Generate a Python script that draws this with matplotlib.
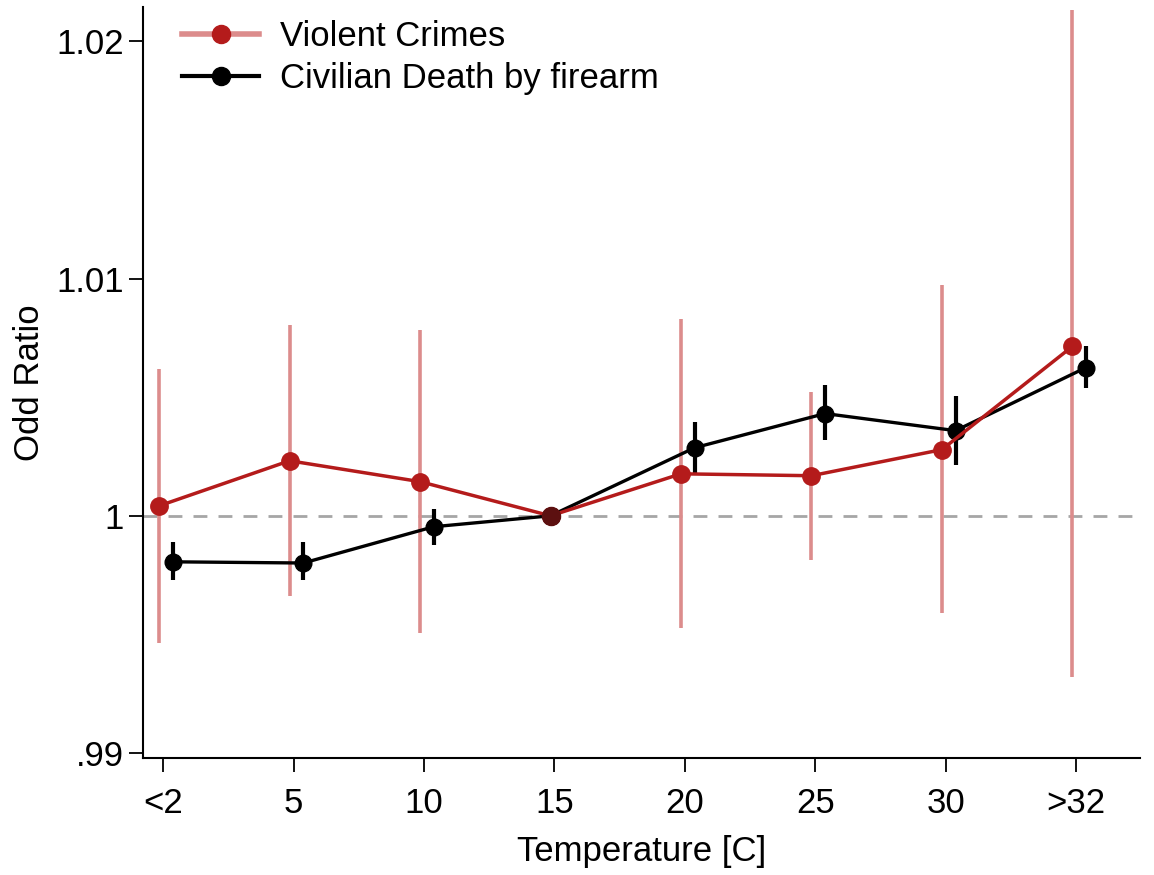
import matplotlib.pyplot as plt
import numpy as np
from matplotlib.lines import Line2D

plt.rcParams['font.family'] = ['Liberation Sans', 'DejaVu Sans']

categories = ["<2", "5", "10", "15", "20", "25", "30", ">32"]
ref_idx = 3  # 15C is the reference category

# Violent crimes: point estimate and 95% CI
violent = [1.00042, 1.00232, 1.00144, 1.0, 1.00177, 1.00169, 1.00279, 1.00714]
violent_lo = [0.99463, 0.99662, 0.99506, 1.0, 0.99527, 0.99814, 0.99590, 0.99320]
violent_hi = [1.00617, 1.00803, 1.00782, 1.0, 1.00828, 1.00520, 1.00972, 1.02134]

# Civilian death by firearm: point estimate and 95% CI
firearm = [0.99806, 0.99801, 0.99954, 1.0, 1.00287, 1.00431, 1.00359, 1.00625]
firearm_lo = [0.99730, 0.99728, 0.99877, 1.0, 1.00177, 1.00321, 1.00215, 1.00537]
firearm_hi = [0.99890, 0.99890, 1.00030, 1.0, 1.00397, 1.00553, 1.00503, 1.00714]

red = '#b41b1b'
pink = '#dc8c8c'

fig, ax = plt.subplots(figsize=(11.54, 8.75), dpi=100)
fig.subplots_adjust(left=0.124, right=0.988, bottom=0.134, top=0.992)

x = np.arange(len(categories))
xr = x - 0.03
xb = x + 0.075
xb[ref_idx] = xr[ref_idx]

ax.axhline(1.0, color='#a6a6a6', lw=2, ls=(0, (5, 4)), zorder=1)

# violent crimes CI
ax.vlines(xr, violent_lo, violent_hi, color=pink, lw=2.6, zorder=2)
# firearm CI + line
ax.vlines(xb, firearm_lo, firearm_hi, color='black', lw=3, zorder=3)
ax.plot(xb, firearm, color='black', lw=2.4, marker='o', ms=12, zorder=4)
ax.plot(xr, violent, color=red, lw=2.5, marker='o', ms=12.5, zorder=5)
# overlapping reference point
ax.plot(xr[ref_idx], violent[ref_idx], 'o', color='#5c1010', ms=13, zorder=6)

ax.set_xlim(-0.153, 7.49)
ax.set_ylim(0.9898, 1.02145)
ax.set_xticks(x)
ax.set_xticklabels(categories)
ax.set_yticks([0.99, 1.0, 1.01, 1.02])
ax.set_yticklabels([".99", "1", "1.01", "1.02"])
ax.tick_params(axis='both', labelsize=25, length=10, width=1.3, direction='out')
ax.tick_params(axis='x', pad=11)
ax.tick_params(axis='y', pad=4)
ax.spines['top'].set_visible(False)
ax.spines['right'].set_visible(False)
ax.spines['left'].set_linewidth(1.5)
ax.spines['bottom'].set_linewidth(1.5)

ax.set_xlabel("Temperature [C]", fontsize=25, labelpad=11)
ax.set_ylabel("Odd Ratio", fontsize=25, labelpad=7)

handles = [
    Line2D([0], [0], color=pink, lw=4, marker='o', ms=13,
           markerfacecolor=red, markeredgecolor=red),
    Line2D([0], [0], color='black', lw=3, marker='o', ms=13),
]
ax.legend(handles, ["Violent Crimes", "Civilian Death by firearm"],
          loc='upper left', bbox_to_anchor=(0.008, 1.024), frameon=False,
          fontsize=25, handlelength=2.2, handletextpad=0.6, labelspacing=0.25)

plt.savefig('out.png', dpi=100)
